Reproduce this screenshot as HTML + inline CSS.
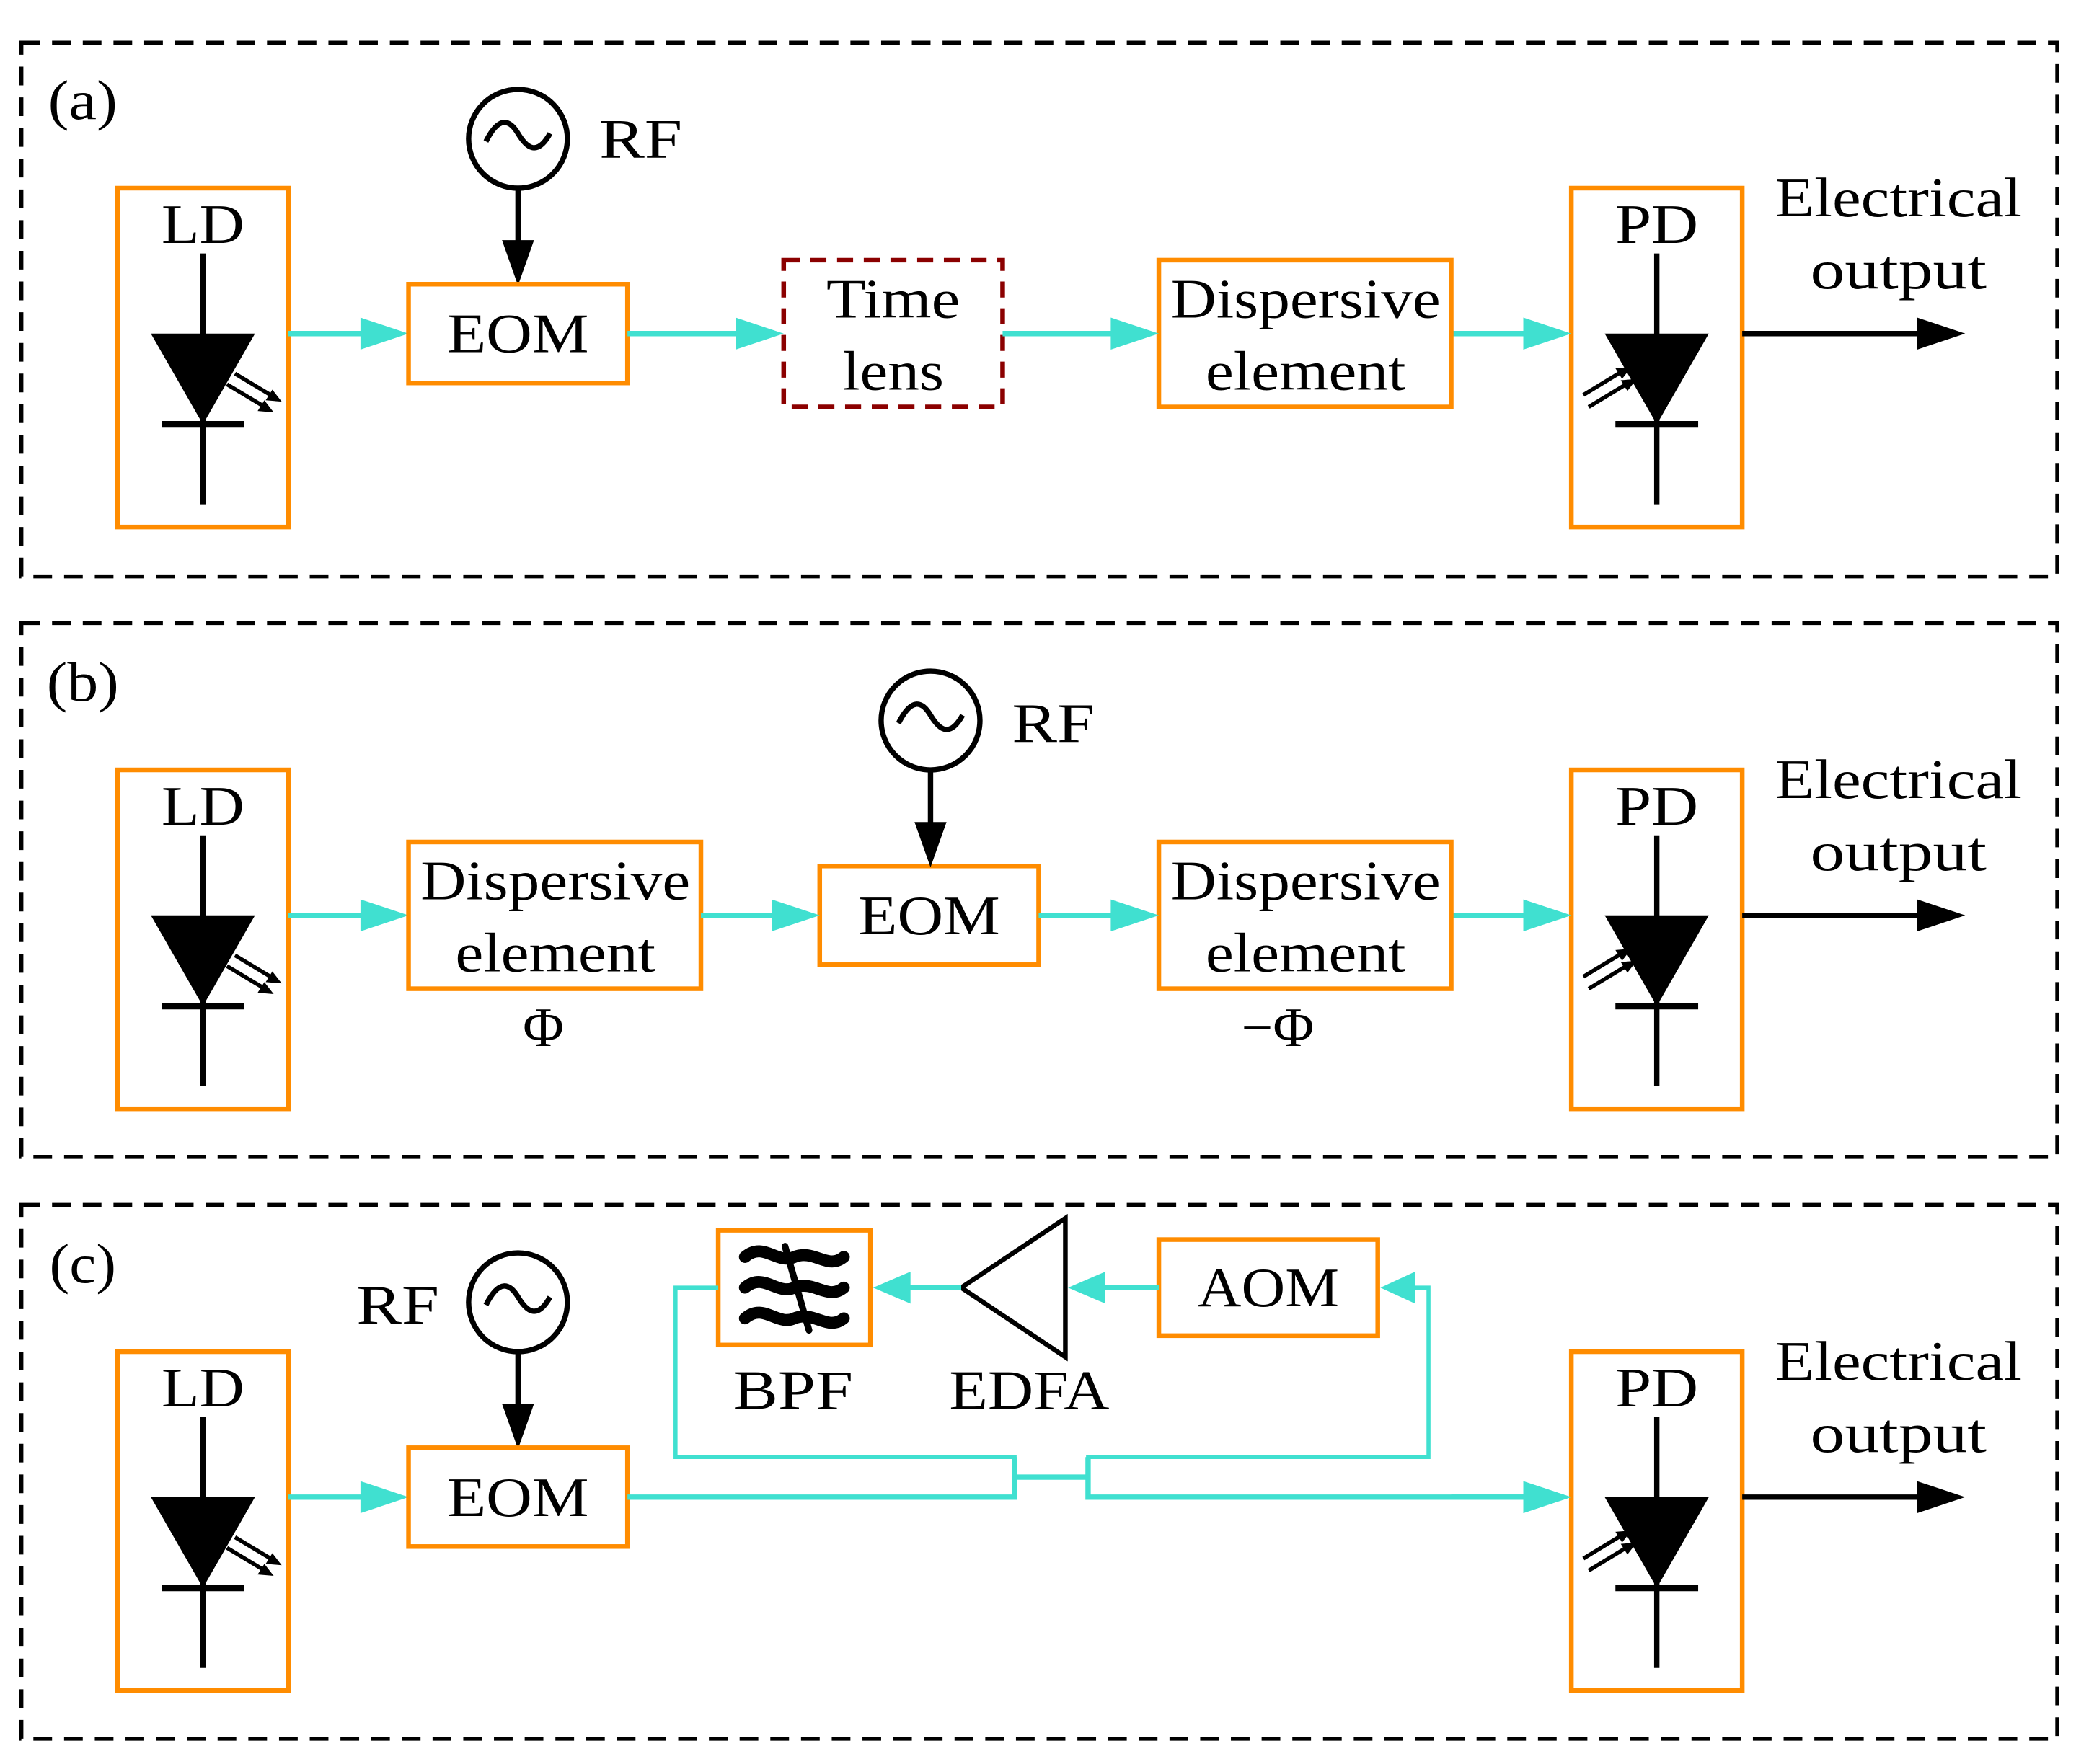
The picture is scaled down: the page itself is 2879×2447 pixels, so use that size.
<!DOCTYPE html>
<html><head><meta charset="utf-8"><style>html,body{margin:0;padding:0;background:#fff}svg{display:block}text{font-family:"Liberation Serif",serif;font-size:42px;fill:#000;text-anchor:middle;dominant-baseline:central}</style></head><body>
<svg width="2879" height="2447" viewBox="0 0 1555 1322" preserveAspectRatio="none" xmlns="http://www.w3.org/2000/svg">
<defs>
<g id="ld">
<rect x="88" y="141" width="128" height="254" fill="none" stroke="#FF8C00" stroke-width="3.5"/>
<text x="152" y="168" textLength="62" lengthAdjust="spacingAndGlyphs">LD</text>
<line x1="152" y1="190" x2="152" y2="378" stroke="#000" stroke-width="4"/>
<path d="M113,250 L191,250 L152,318 Z" fill="#000"/>
<line x1="121" y1="318" x2="183" y2="318" stroke="#000" stroke-width="5"/>
<path d="M170,288 L200,306 M176,280 L206,298" stroke="#000" stroke-width="3"/>
<path d="M205,309 L193,308 L198,300 Z M211,301 L199,300 L204,292 Z" fill="#000"/>
</g>
<g id="pd">
<rect x="1177" y="141" width="128" height="254" fill="none" stroke="#FF8C00" stroke-width="3.5"/>
<text x="1241" y="168" textLength="62" lengthAdjust="spacingAndGlyphs">PD</text>
<line x1="1241" y1="190" x2="1241" y2="378" stroke="#000" stroke-width="4"/>
<path d="M1202,250 L1280,250 L1241,318 Z" fill="#000"/>
<line x1="1210" y1="318" x2="1272" y2="318" stroke="#000" stroke-width="5"/>
<path d="M1186,296 L1214,279 M1190,305 L1218,288" stroke="#000" stroke-width="3"/>
<path d="M1222,275 L1210,276 L1215,284 Z M1226,284 L1214,285 L1219,293 Z" fill="#000"/>
<text x="1422" y="148" textLength="185" lengthAdjust="spacingAndGlyphs">Electrical</text>
<text x="1422" y="202" textLength="132" lengthAdjust="spacingAndGlyphs">output</text>
<line x1="1305" y1="250" x2="1440" y2="250" stroke="#000" stroke-width="4"/>
<path d="M1436,238 L1472,250 L1436,262 Z" fill="#000"/>
<path d="M216,250 H272" stroke="#40E0D0" stroke-width="4"/>
<path d="M270,238 L306,250 L270,262 Z" fill="#40E0D0"/>
<path d="M1087,250 H1142" stroke="#40E0D0" stroke-width="4"/>
<path d="M1141,238 L1177,250 L1141,262 Z" fill="#40E0D0"/>
</g>
<g id="rf">
<circle cx="0" cy="0" r="37" fill="#fff" stroke="#000" stroke-width="4"/>
<path d="M-24,2 C-14,-18 -6,-14 0,-4 C6,6 14,14 24,-4" fill="none" stroke="#000" stroke-width="4"/>
<line x1="0" y1="37" x2="0" y2="80" stroke="#000" stroke-width="4"/>
<path d="M-12,76 L0,110 L12,76 Z" fill="#000"/>
</g>
</defs>
<g fill="none" stroke="#000" stroke-width="3" stroke-dasharray="14,9">
<rect x="16" y="32" width="1525" height="400"/>
<rect x="16" y="467" width="1525" height="400"/>
<rect x="16" y="903" width="1525" height="400"/>
</g>
<!-- (a) -->
<text x="62" y="75" textLength="52" lengthAdjust="spacingAndGlyphs">(a)</text>
<use href="#ld"/><use href="#pd"/>
<use href="#rf" x="388" y="104"/>
<text x="480" y="104" textLength="62" lengthAdjust="spacingAndGlyphs">RF</text>
<rect x="306" y="213" width="164" height="74" fill="none" stroke="#FF8C00" stroke-width="3.5"/>
<text x="388" y="250" textLength="106" lengthAdjust="spacingAndGlyphs">EOM</text>
<rect x="587" y="195" width="164" height="110" fill="none" stroke="#8B0000" stroke-width="3.5" stroke-dasharray="12,8"/>
<text x="669" y="224" textLength="100" lengthAdjust="spacingAndGlyphs">Time</text><text x="669" y="278" textLength="76" lengthAdjust="spacingAndGlyphs">lens</text>
<rect x="868" y="195" width="219" height="110" fill="none" stroke="#FF8C00" stroke-width="3.5"/>
<text x="978" y="224" textLength="202" lengthAdjust="spacingAndGlyphs">Dispersive</text><text x="978" y="278" textLength="150" lengthAdjust="spacingAndGlyphs">element</text>
<g stroke="#40E0D0" stroke-width="4"><path d="M470,250 H553"/><path d="M751,250 H834"/></g>
<g fill="#40E0D0"><path d="M551,238 L587,250 L551,262 Z"/><path d="M832,238 L868,250 L832,262 Z"/></g>
<!-- (b) -->
<g transform="translate(0,436)">
<text x="62" y="75" textLength="54" lengthAdjust="spacingAndGlyphs">(b)</text>
<use href="#ld"/><use href="#pd"/>
<rect x="306" y="195" width="219" height="110" fill="none" stroke="#FF8C00" stroke-width="3.5"/>
<text x="416" y="224" textLength="202" lengthAdjust="spacingAndGlyphs">Dispersive</text><text x="416" y="278" textLength="150" lengthAdjust="spacingAndGlyphs">element</text>
<text x="407" y="334">Φ</text>
<rect x="614" y="213" width="164" height="74" fill="none" stroke="#FF8C00" stroke-width="3.5"/>
<text x="696" y="250" textLength="106" lengthAdjust="spacingAndGlyphs">EOM</text>
<use href="#rf" x="697" y="104"/>
<text x="789" y="106" textLength="62" lengthAdjust="spacingAndGlyphs">RF</text>
<rect x="868" y="195" width="219" height="110" fill="none" stroke="#FF8C00" stroke-width="3.5"/>
<text x="978" y="224" textLength="202" lengthAdjust="spacingAndGlyphs">Dispersive</text><text x="978" y="278" textLength="150" lengthAdjust="spacingAndGlyphs">element</text>
<text x="957" y="334">−Φ</text>
<g stroke="#40E0D0" stroke-width="4"><path d="M525,250 H580"/><path d="M778,250 H834"/></g>
<g fill="#40E0D0"><path d="M578,238 L614,250 L578,262 Z"/><path d="M832,238 L868,250 L832,262 Z"/></g>
</g>
<!-- (c) -->
<g transform="translate(0,872)">
<text x="62" y="75" textLength="50" lengthAdjust="spacingAndGlyphs">(c)</text>
<use href="#ld"/>
<use href="#pd"/>
<use href="#rf" x="388" y="104"/>
<text x="298" y="106" textLength="62" lengthAdjust="spacingAndGlyphs">RF</text>
<rect x="306" y="213" width="164" height="74" fill="none" stroke="#FF8C00" stroke-width="3.5"/>
<text x="388" y="250" textLength="106" lengthAdjust="spacingAndGlyphs">EOM</text>
<rect x="538" y="50" width="114" height="86" fill="none" stroke="#FF8C00" stroke-width="3.5"/>
<g fill="none" stroke="#000" stroke-width="9" stroke-linecap="round">
<path d="M558,70 C572,58 582,76 595,70 C610,64 620,80 632,70"/>
<path d="M558,93 C572,81 582,99 595,93 C610,87 620,103 632,93"/>
<path d="M558,116 C572,104 582,122 595,116 C610,110 620,126 632,116"/>
<path d="M588,62 L606,125" stroke-width="5"/>
</g>
<text x="594" y="170" textLength="90" lengthAdjust="spacingAndGlyphs">BPF</text>
<path d="M720,93 L798,41 L798,145 Z" fill="none" stroke="#000" stroke-width="3.5"/>
<text x="771" y="170" textLength="120" lengthAdjust="spacingAndGlyphs">EDFA</text>
<rect x="868" y="57" width="164" height="72" fill="none" stroke="#FF8C00" stroke-width="3.5"/>
<text x="950" y="93" textLength="106" lengthAdjust="spacingAndGlyphs">AOM</text>
<g fill="none" stroke="#40E0D0">
<path d="M470,250 H760 V220 M760,235 H815 M815,220 V250 H1142" stroke-width="4"/>
<path d="M760,235 V220 H506 V93 H538 M815,235 V220 H1070 V93 H1060" stroke-width="3"/>
<path d="M868,93 H826 M720,93 H680" stroke-width="4"/>
</g>
<g fill="#40E0D0">
<path d="M1141,238 L1177,250 L1141,262 Z"/>
<path d="M1060,81 L1034,93 L1060,105 Z"/>
<path d="M828,81 L800,93 L828,105 Z"/>
<path d="M682,81 L654,93 L682,105 Z"/>
</g>
</g>
</svg>
</body></html>
